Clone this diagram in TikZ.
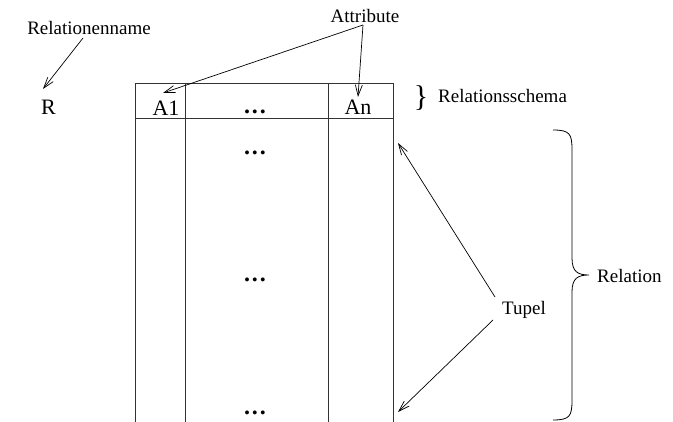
\documentclass[tikz,border=0pt]{standalone}
\usepackage{fontspec}
\setmainfont{Liberation Serif}
\usetikzlibrary{arrows.meta}
\tikzset{
  small/.style={inner sep=0pt,anchor=base,font=\fontsize{19}{22}\selectfont},
  big/.style={inner sep=0pt,anchor=base,font=\fontsize{22}{25}\selectfont},
  dotsty/.style={inner sep=0pt,anchor=base,font=\fontsize{24}{26}\selectfont\bfseries},
  ptr/.style={line width=0.7pt,-{Straight Barb[length=11pt,width=7pt,line width=0.7pt]}},
  grid/.style={line width=0.9pt,draw=black!80},
}
\begin{document}
\begin{tikzpicture}[x=1pt,y=-1pt]
\useasboundingbox (0,0) rectangle (673,422);
% table
\draw[grid] (135,422) -- (135,83) -- (393,83) -- (393,422);
\draw[grid] (135,118) -- (393,118);
\draw[grid] (185,83) -- (185,422);
\draw[grid] (328,83) -- (328,422);
% texts
\node[small] (relname) at (89,35) {Relationenname};
\node[big] (R) at (48.5,115) {R};
\node[small] (attr) at (365,23) {Attribute};
\node[big] (A1) at (166,116) {A1};
\node[big] (An) at (358,115) {An};
\node[dotsty] (hdots) at (255,114) {.\kern2pt.\kern2pt.};
\node[dotsty] (d1) at (255,155) {.\kern2pt.\kern2pt.};
\node[dotsty] (d2) at (255,282) {.\kern2pt.\kern2pt.};
\node[dotsty] (d3) at (255,415) {.\kern2pt.\kern2pt.};
\node[inner sep=0pt,anchor=center,font=\fontsize{30}{32}\selectfont] (sbrace) at (421,98) {\}};
\node[small,anchor=base west] (schema) at (438,103) {Relationsschema};
\node[small,anchor=base west] (rel) at (597,283) {Relation};
\node[small,anchor=base west] (tupel) at (502,315) {Tupel};
% arrow end points
\coordinate (rs) at (83,38);
\coordinate (rt) at (43,89);
\coordinate (as) at (363,25);
\coordinate (a1t) at (163,93);
\coordinate (ant) at (358,97);
\coordinate (t1s) at (495,297);
\coordinate (t1t) at (398,143);
\coordinate (t2s) at (493,320);
\coordinate (t2t) at (398,412);
\draw[ptr] (rs) -- (rt);
\draw[ptr] (as) -- (a1t);
\draw[ptr] (as) -- (ant);
\draw[ptr] (t1s) -- (t1t);
\draw[ptr] (t2s) -- (t2t);
% big brace
\draw[line width=0.8pt] (553,130) .. controls (570,130) and (572,134) .. (572,150)
  -- (572,258) .. controls (572,272) and (578,275) .. (589,275)
  .. controls (578,275) and (572,278) .. (572,292)
  -- (572,400) .. controls (572,416) and (570,420) .. (553,420);
\end{tikzpicture}
\end{document}
